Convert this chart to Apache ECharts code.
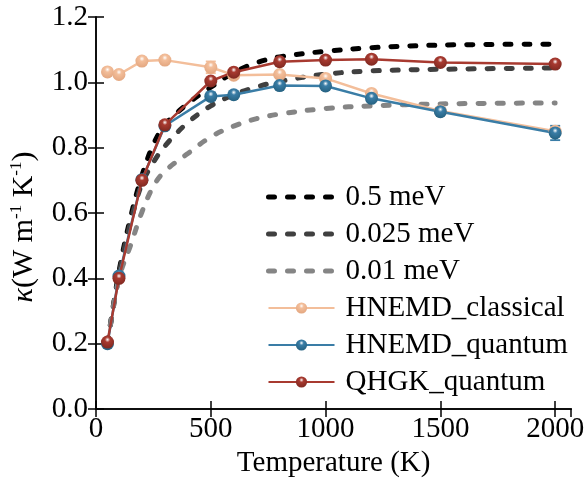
<!DOCTYPE html>
<html>
<head>
<meta charset="utf-8">
<script src="https://cdn.jsdelivr.net/npm/echarts@6/dist/echarts.min.js"></script>
<style>
html,body{margin:0;padding:0;background:#fff;}
#chart{width:587px;height:489px;}
</style>
</head>
<body>
<div id="chart"></div>
<script>
// ---- data ----
const temps = [50, 100, 200, 300, 500, 600, 800, 1000, 1200, 1500, 2000];
const hnemdClassical = [1.032, 1.024, 1.065, 1.068, 1.046, 1.022, 1.024, 1.012, 0.966, 0.912, 0.850];
const hnemdClassicalErr = [0.006, 0.006, 0.006, 0.006, 0.018, 0.006, 0.006, 0.006, 0.008, 0.006, 0.010];
const hnemdQuantum = [0.200, 0.407, 0.702, 0.867, 0.957, 0.962, 0.990, 0.989, 0.951, 0.910, 0.845];
const hnemdQuantumErr = [0.006, 0.008, 0.008, 0.006, 0.012, 0.006, 0.006, 0.006, 0.006, 0.008, 0.022];
const qhgkQuantum = [0.205, 0.400, 0.700, 0.870, 1.004, 1.031, 1.063, 1.068, 1.071, 1.061, 1.056];

const curveTemps = [50, 100, 150, 200, 250, 300, 400, 500, 600, 700, 800, 1000, 1200, 1500, 2000];
const curve05 = [0.20, 0.42, 0.585, 0.715, 0.81, 0.87, 0.935, 0.985, 1.03, 1.06, 1.078, 1.095, 1.106, 1.114, 1.117];
const curve0025 = [0.20, 0.41, 0.57, 0.69, 0.755, 0.805, 0.877, 0.928, 0.962, 0.986, 1.003, 1.025, 1.035, 1.040, 1.044];
const curve001 = [0.20, 0.40, 0.50, 0.603, 0.682, 0.728, 0.782, 0.833, 0.866, 0.889, 0.903, 0.920, 0.928, 0.934, 0.937];

const xTicks = [0, 500, 1000, 1500, 2000];
const yTicks = [0.0, 0.2, 0.4, 0.6, 0.8, 1.0, 1.2];

const seriesNames = ['0.5 meV', '0.025 meV', '0.01 meV', 'HNEMD_classical', 'HNEMD_quantum', 'QHGK_quantum'];

// ---- helpers ----
const FONT = 'Liberation Serif';
const DASH = { width: 5, type: [6, 13], cap: 'round' };
function pairs(xs, ys) { return xs.map((x, i) => [x, ys[i]]); }
function ball(base, dark) {
  return {
    type: 'radial', x: 0.5, y: 0.32, r: 0.7,
    colorStops: [
      { offset: 0, color: '#ffffff' },
      { offset: 0.28, color: base },
      { offset: 1, color: dark }
    ]
  };
}
function dashed(name, ys, color) {
  return {
    name: name, type: 'line', data: pairs(curveTemps, ys),
    smooth: 0.35, showSymbol: false, symbol: 'none', z: 1,
    lineStyle: Object.assign({ color: color }, DASH),
    itemStyle: { color: color }
  };
}
function solid(name, ys, color, dark) {
  return {
    name: name, type: 'line', data: pairs(temps, ys),
    symbol: 'circle', symbolSize: 13, z: 3,
    lineStyle: { color: color, width: 2.5 },
    itemStyle: { color: ball(color, dark) }
  };
}
function errorBars(ys, errs, color) {
  return {
    type: 'custom', z: 2, silent: true,
    data: temps.map((t, i) => [t, ys[i] - errs[i], ys[i] + errs[i]]),
    renderItem: function (params, api) {
      const lo = api.coord([api.value(0), api.value(1)]);
      const hi = api.coord([api.value(0), api.value(2)]);
      const w = 5;
      const st = { stroke: color, lineWidth: 1.8 };
      return {
        type: 'group', children: [
          { type: 'line', shape: { x1: lo[0], y1: lo[1], x2: hi[0], y2: hi[1] }, style: st },
          { type: 'line', shape: { x1: lo[0] - w, y1: lo[1], x2: lo[0] + w, y2: lo[1] }, style: st },
          { type: 'line', shape: { x1: hi[0] - w, y1: hi[1], x2: hi[0] + w, y2: hi[1] }, style: st }
        ]
      };
    }
  };
}

const dashColors = ['#000000', '#404040', '#858585'];
const legendData = seriesNames.map((n, i) => i < 3
  ? { name: n, itemStyle: { opacity: 0 }, lineStyle: Object.assign({ color: dashColors[i] }, DASH) }
  : { name: n });

const axisLine = { show: true, lineStyle: { color: '#000', width: 1.5 } };
const axisTick = { show: true, inside: true, length: 8, lineStyle: { color: '#000', width: 1.5 } };

const chart = echarts.init(document.getElementById('chart'), null, { renderer: 'canvas' });
chart.setOption({
  backgroundColor: '#fff',
  animation: false,
  textStyle: { fontFamily: FONT },
  grid: { left: 91, right: 14, top: 17, bottom: 80, containLabel: false },
  xAxis: [
    {
      type: 'value', min: 0, max: 2070, interval: 500, position: 'bottom',
      axisLine: axisLine, axisTick: axisTick, splitLine: { show: false },
      axisLabel: {
        color: '#000', fontSize: 29, fontFamily: FONT, margin: 6,
        formatter: v => (xTicks.indexOf(v) >= 0 ? String(v) : ''),
        showMaxLabel: false
      },
      name: 'Temperature (K)', nameLocation: 'middle', nameGap: 39,
      nameTextStyle: { color: '#000', fontSize: 29, fontFamily: FONT }
    },
    {
      type: 'value', min: 0, max: 2070, interval: 500, position: 'top',
      axisLine: axisLine, axisTick: axisTick, splitLine: { show: false },
      axisLabel: { show: false }
    }
  ],
  yAxis: [
    {
      type: 'value', min: 0, max: 1.2, interval: 0.2, position: 'left',
      axisLine: axisLine, axisTick: axisTick, splitLine: { show: false },
      axisLabel: {
        color: '#000', fontSize: 29, fontFamily: FONT, margin: 8,
        formatter: v => {
          const t = yTicks.find(y => Math.abs(y - v) < 1e-6);
          return t === undefined ? '' : t.toFixed(1);
        }
      },
      name: '{k|κ}{n|(W m}{s|-1}{n| K}{s|-1}{n|)}', nameLocation: 'middle', nameGap: 56,
      nameTextStyle: {
        color: '#000', fontFamily: FONT, padding: [0, 28, 0, 0],
        rich: {
          k: { fontSize: 30, fontStyle: 'italic', fontFamily: FONT, color: '#000', lineHeight: 32 },
          n: { fontSize: 30, fontFamily: FONT, color: '#000', lineHeight: 32 },
          s: { fontSize: 17, fontFamily: FONT, color: '#000', verticalAlign: 'top', lineHeight: 17 }
        }
      }
    },
    {
      type: 'value', min: 0, max: 1.2, interval: 0.2, position: 'right',
      axisLine: axisLine, axisTick: axisTick, splitLine: { show: false },
      axisLabel: { show: false }
    }
  ],
  legend: {
    left: 261, top: 174, orient: 'vertical',
    itemWidth: 66, itemHeight: 14, itemGap: 1,
    data: legendData,
    textStyle: { fontSize: 29, fontFamily: FONT, color: '#000', lineHeight: 36, padding: [0, 0, 0, 6] }
  },
  series: [
    dashed(seriesNames[0], curve05, dashColors[0]),
    dashed(seriesNames[1], curve0025, dashColors[1]),
    dashed(seriesNames[2], curve001, dashColors[2]),
    errorBars(hnemdClassical, hnemdClassicalErr, '#F3BE9A'),
    solid(seriesNames[3], hnemdClassical, '#F3BE9A', '#E2A57E'),
    errorBars(hnemdQuantum, hnemdQuantumErr, '#3A7DA6'),
    solid(seriesNames[4], hnemdQuantum, '#3A7DA6', '#24607F'),
    solid(seriesNames[5], qhgkQuantum, '#A83A30', '#7E2820')
  ]
});
</script>
</body>
</html>
